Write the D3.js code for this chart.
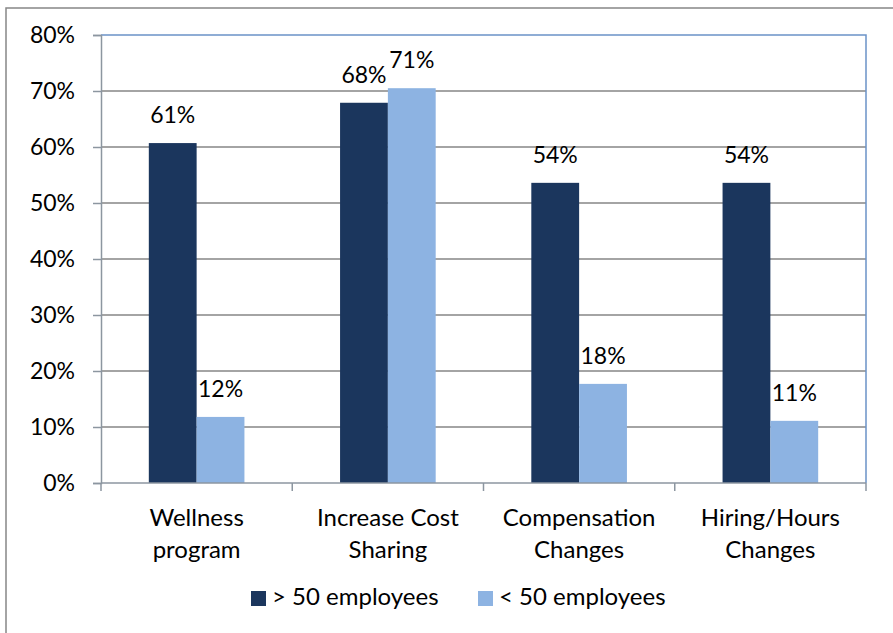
<!DOCTYPE html>
<html>
<head>
<meta charset="utf-8">
<script src="https://cdn.jsdelivr.net/npm/d3@7"></script>
<style>
  body { margin: 0; background: #fff; }
  text { font-family: Lato, "Noto Sans", sans-serif; fill: #000; }
</style>
</head>
<body>
<div id="chart"></div>
<script>
// data
var categories = ["Wellness program", "Increase Cost Sharing", "Compensation Changes", "Hiring/Hours Changes"];
var catLines = [["Wellness", "program"], ["Increase Cost", "Sharing"], ["Compensation", "Changes"], ["Hiring/Hours", "Changes"]];
var seriesNames = ["> 50 employees", "< 50 employees"];
var over50 = [0.607, 0.679, 0.536, 0.536];
var under50 = [0.118, 0.705, 0.177, 0.111];
var yTicks = [0, 0.1, 0.2, 0.3, 0.4, 0.5, 0.6, 0.7, 0.8];

var colors = ["#1b365d", "#8db3e2"];
var width = 893, height = 633;
var margin = {top: 35, right: 27, bottom: 150, left: 101};
var w = width - margin.left - margin.right;
var h = height - margin.top - margin.bottom;

var svg = d3.select("#chart").append("svg")
  .attr("width", width)
  .attr("height", height);

// outer chart border
svg.append("rect")
  .attr("x", 6).attr("y", 8)
  .attr("width", 950).attr("height", 700)
  .attr("fill", "none")
  .attr("stroke", "#878787")
  .attr("stroke-width", 1.5);

var g = svg.append("g")
  .attr("transform", "translate(" + margin.left + "," + margin.top + ")");

var x0 = d3.scaleBand().domain(categories).range([0, w]).paddingInner(0).paddingOuter(0);
var x1 = d3.scaleBand().domain([0, 1]).range([0, x0.bandwidth()]).paddingOuter(1).paddingInner(0);
var y = d3.scaleLinear().domain([0, 0.8]).range([h, 0]);

// gridlines
g.selectAll(".grid").data(yTicks.slice(1, -1)).enter().append("line")
  .attr("x1", 0).attr("x2", w)
  .attr("y1", d => y(d)).attr("y2", d => y(d))
  .attr("stroke", "#868686").attr("stroke-width", 1.5);

// plot border top/right
g.append("path")
  .attr("d", "M0," + y(0.8) + "H" + w + "V" + h)
  .attr("fill", "none")
  .attr("stroke", "#6b93c8").attr("stroke-width", 1.5);

// y axis
var yAxis = g.append("g")
  .call(d3.axisLeft(y).tickValues(yTicks).tickFormat(d3.format(".0%")).tickSize(8).tickPadding(18));
yAxis.select(".domain").attr("stroke", "#8c96a0").attr("stroke-width", 1.5);
yAxis.selectAll(".tick line").attr("stroke", "#8c96a0").attr("stroke-width", 1.5);
yAxis.selectAll(".tick text").attr("font-size", 23).attr("font-family", "Lato, sans-serif").attr("fill", "#000");

// bars
var groups = g.selectAll(".cat").data(categories).enter().append("g")
  .attr("transform", d => "translate(" + x0(d) + ",0)");

[over50, under50].forEach(function(vals, s) {
  groups.append("rect")
    .attr("x", x1(s))
    .attr("width", x1.bandwidth())
    .attr("y", (d, i) => y(vals[i]))
    .attr("height", (d, i) => h - y(vals[i]))
    .attr("fill", colors[s]);
  groups.append("text")
    .attr("x", x1(s) + x1.bandwidth() / 2)
    .attr("y", (d, i) => y(vals[i]) - 20)
    .attr("text-anchor", "middle")
    .attr("font-size", 23)
    .text((d, i) => Math.round(vals[i] * 100) + "%");
});

// x axis
var xAxis = g.append("g")
  .attr("transform", "translate(0," + h + ")");
xAxis.append("line")
  .attr("x1", 0).attr("x2", w)
  .attr("stroke", "#8c96a0").attr("stroke-width", 1.5);
xAxis.selectAll(".xt").data(d3.range(categories.length + 1)).enter().append("line")
  .attr("x1", d => d * x0.step()).attr("x2", d => d * x0.step())
  .attr("y1", 0).attr("y2", 8)
  .attr("stroke", "#8c96a0").attr("stroke-width", 1.5);

// category labels (two lines)
categories.forEach(function(c, i) {
  var t = xAxis.append("text")
    .attr("text-anchor", "middle")
    .attr("font-size", 24);
  catLines[i].forEach(function(line, j) {
    t.append("tspan")
      .attr("x", x0(c) + x0.bandwidth() / 2)
      .attr("y", 43 + j * 32)
      .text(line);
  });
});

// legend
var legendX = [251, 478];
seriesNames.forEach(function(name, s) {
  var lg = svg.append("g").attr("transform", "translate(" + legendX[s] + ",591)");
  lg.append("rect").attr("width", 15).attr("height", 15).attr("fill", colors[s]);
  lg.append("text").attr("x", 21).attr("y", 14).attr("font-size", 24).text(name);
});
</script>
</body>
</html>
